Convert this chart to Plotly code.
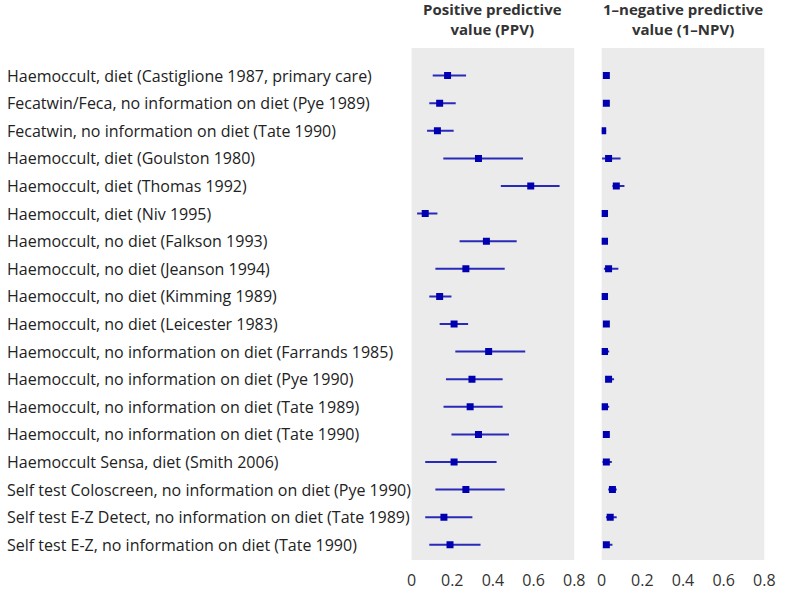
import plotly.graph_objects as go

# study labels, top to bottom
studies = [
    "Haemoccult, diet (Castiglione 1987, primary care)",
    "Fecatwin/Feca, no information on diet (Pye 1989)",
    "Fecatwin, no information on diet (Tate 1990)",
    "Haemoccult, diet (Goulston 1980)",
    "Haemoccult, diet (Thomas 1992)",
    "Haemoccult, diet (Niv 1995)",
    "Haemoccult, no diet (Falkson 1993)",
    "Haemoccult, no diet (Jeanson 1994)",
    "Haemoccult, no diet (Kimming 1989)",
    "Haemoccult, no diet (Leicester 1983)",
    "Haemoccult, no information on diet (Farrands 1985)",
    "Haemoccult, no information on diet (Pye 1990)",
    "Haemoccult, no information on diet (Tate 1989)",
    "Haemoccult, no information on diet (Tate 1990)",
    "Haemoccult Sensa, diet (Smith 2006)",
    "Self test Coloscreen, no information on diet (Pye 1990)",
    "Self test E-Z Detect, no information on diet (Tate 1989)",
    "Self test E-Z, no information on diet (Tate 1990)",
]

# positive predictive value with 95% CI
ppv = [0.177, 0.138, 0.127, 0.329, 0.586, 0.067, 0.368, 0.267, 0.138,
       0.209, 0.379, 0.297, 0.288, 0.329, 0.209, 0.267, 0.159, 0.189]
ppv_lo = [0.104, 0.087, 0.076, 0.156, 0.439, 0.027, 0.236, 0.117, 0.087,
          0.138, 0.215, 0.169, 0.157, 0.196, 0.067, 0.117, 0.067, 0.087]
ppv_hi = [0.268, 0.217, 0.207, 0.548, 0.728, 0.127, 0.517, 0.458, 0.196,
          0.278, 0.559, 0.448, 0.448, 0.479, 0.418, 0.458, 0.299, 0.339]

# 1 - negative predictive value with 95% CI
npv1 = [0.023, 0.023, 0.005, 0.034, 0.072, 0.014, 0.014, 0.034, 0.014,
        0.023, 0.014, 0.034, 0.014, 0.023, 0.023, 0.053, 0.042, 0.023]
npv1_lo = [0.016, 0.016, 0.000, 0.002, 0.053, 0.004, 0.004, 0.011, 0.008,
           0.017, 0.004, 0.021, 0.004, 0.007, 0.004, 0.032, 0.021, 0.008]
npv1_hi = [0.030, 0.030, 0.022, 0.093, 0.112, 0.027, 0.030, 0.082, 0.020,
           0.029, 0.037, 0.061, 0.037, 0.037, 0.050, 0.074, 0.074, 0.053]

x_ticks = [0, 0.2, 0.4, 0.6, 0.8]
x_tick_text = ["0", "0.2", "0.4", "0.6", "0.8"]

titles = ["Positive predictive<br>value (PPV)",
          "1\u2013negative predictive<br>value (1\u2013NPV)"]

rows = list(range(1, len(studies) + 1))

MARK = "#0000b0"
LINE = "#2a2ab8"
FONT = "Open Sans"

W, H = 790, 593
TOP, BOTTOM = 48, 33
PH = H - TOP - BOTTOM

fig = go.Figure()


def add_panel(val, lo, hi, xa, ya):
    fig.add_trace(go.Scatter(
        x=val, y=rows, mode="markers",
        marker=dict(symbol="square", size=7, color=MARK),
        error_x=dict(type="data", symmetric=False,
                     array=[h - v for h, v in zip(hi, val)],
                     arrayminus=[v - l for v, l in zip(val, lo)],
                     color=LINE, thickness=2, width=0),
        xaxis=xa, yaxis=ya, showlegend=False, hoverinfo="skip",
    ))


add_panel(ppv, ppv_lo, ppv_hi, "x", "y")
add_panel(npv1, npv1_lo, npv1_hi, "x2", "y2")

xcommon = dict(range=[0, 0.8], tickvals=x_ticks, ticktext=x_tick_text,
               showgrid=False, zeroline=False, showline=False,
               ticks="outside", ticklen=6, tickcolor="white",
               tickfont=dict(family=FONT, size=16, color="#333"))
ycommon = dict(range=[18.55, 0], showgrid=False, zeroline=False,
               showticklabels=False, showline=False)

fig.update_layout(
    width=W, height=H,
    margin=dict(l=0, r=0, t=TOP, b=BOTTOM),
    paper_bgcolor="white", plot_bgcolor="#ebebeb",
    xaxis=dict(domain=[415 / W, 581 / W], anchor="y", **xcommon),
    xaxis2=dict(domain=[609 / W, 775 / W], anchor="y2", **xcommon),
    yaxis=dict(domain=[0, 1], anchor="x", **ycommon),
    yaxis2=dict(domain=[0, 1], anchor="x2", **ycommon),
)

annotations = []
for r, name in zip(rows, studies):
    annotations.append(dict(
        text=name, x=0, y=r, xref="paper", yref="y",
        xanchor="left", yanchor="middle", align="left", showarrow=False,
        font=dict(family=FONT, size=16, color="#222"),
    ))

for t, cx in zip(titles, [498 / W, 692 / W]):
    annotations.append(dict(
        text="<b>" + t + "</b>", x=cx, y=1 + (TOP - 19) / PH,
        xref="paper", yref="paper", xanchor="center", yanchor="middle",
        showarrow=False, font=dict(family=FONT, size=15, color="#333"),
    ))

fig.update_layout(annotations=annotations)

# drop the default 8px page margin so the figure sits at the window's corner
fig.write_html("out.html", config={"displayModeBar": False},
               post_script="document.body.style.margin = '0';")
